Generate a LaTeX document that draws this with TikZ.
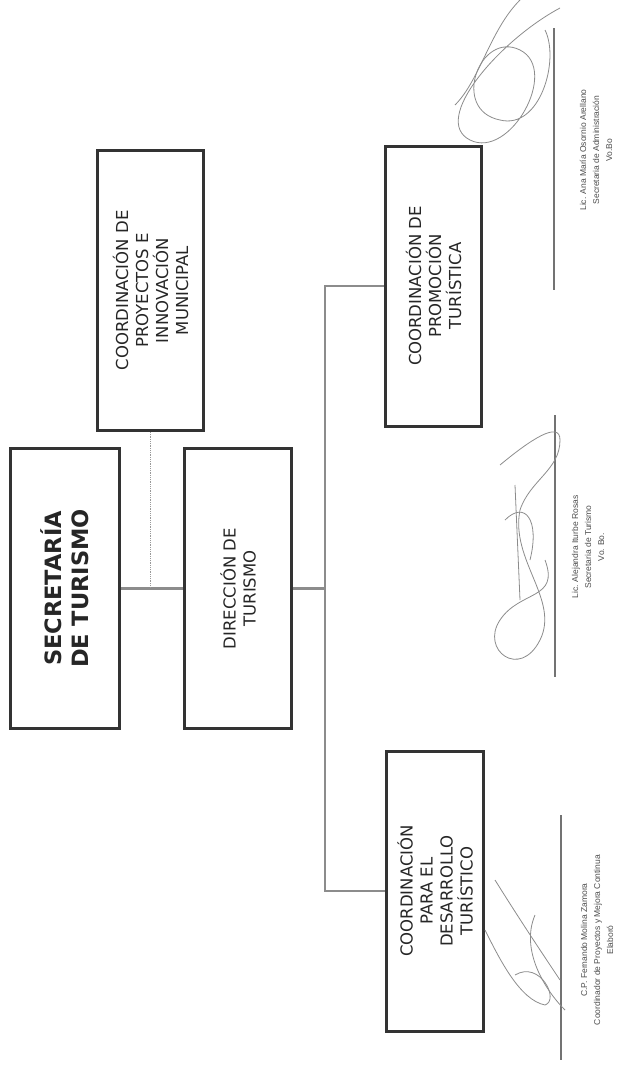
\documentclass[tikz,border=0pt]{standalone}
\usepackage{fontspec}
\setmainfont{DejaVu Sans}
\newfontfamily\signfont{Liberation Sans}
\usetikzlibrary{positioning, calc}

\begin{document}
\begin{tikzpicture}[
    x=1pt, y=-1pt,
    unit/.style={draw=black!80, line width=3pt, rotate=90, align=center,
                 minimum width=280pt, inner sep=2pt, text=black!85,
                 font=\fontsize{16.5}{20}\selectfont},
    head/.style={unit, font=\bfseries\fontsize{22.5}{27}\selectfont},
    link/.style={draw=black!45, line width=2.2pt},
    staff/.style={draw=black!40, line width=0.8pt, densely dotted},
    signline/.style={draw=black!55, line width=1.2pt},
    signtext/.style={rotate=90, align=center, text=black!70,
                     font=\signfont\fontsize{8.5}{13}\selectfont},
    scribble/.style={draw=black!45, line width=0.8pt}
  ]
  \useasboundingbox (0,0) rectangle (621,1071);

  \node[head, minimum height=109pt] (sec) at (65,588.5) {SECRETARÍA\\DE TURISMO};
  \node[unit, minimum height=106pt] (proy) at (150.5,290.5)
    {COORDINACIÓN DE\\PROYECTOS E\\INNOVACIÓN\\MUNICIPAL};
  \node[unit, minimum height=107pt] (dir) at (238,588.5) {DIRECCIÓN DE\\TURISMO};
  \node[unit, minimum height=96pt] (prom) at (433.5,286)
    {COORDINACIÓN DE\\PROMOCIÓN\\TURÍSTICA};
  \node[unit, minimum height=97pt] (desa) at (435,891)
    {COORDINACIÓN\\PARA EL\\DESARROLLO\\TURÍSTICO};

  \coordinate (trunk) at (325,588.5);

  \draw[link] (sec) -- (dir);
  \draw[staff] (proy) -- (proy |- sec);
  \draw[link] (dir) -- (trunk);
  \draw[link] (prom) -| (trunk |- desa) -- (desa);

  % signatures
  \draw[signline] (554,28) -- (554,290);
  \node[signtext] (sigadm) at (596,150)
    {Lic. Ana María Osornio Arellano\\Secretaria de Administración\\Vo.Bo};
  \draw[scribble] (560,8) .. controls (500,40) and (430,120) .. (470,140)
    .. controls (510,160) and (560,70) .. (520,50)
    .. controls (480,30) and (450,110) .. (500,120)
    .. controls (540,130) and (560,60) .. (545,30);
  \draw[scribble] (520,0) .. controls (490,30) and (480,80) .. (455,105);

  \draw[signline] (555,415) -- (555,677);
  \node[signtext] (sigtur) at (588,547)
    {Lic. Alejandra Iturbe Rosas\\Secretaria de Turismo\\Vo. Bo.};
  \draw[scribble] (500,465) .. controls (530,440) and (560,420) .. (560,440)
    .. controls (560,470) and (530,480) .. (520,510)
    .. controls (510,560) and (560,600) .. (540,640)
    .. controls (520,680) and (480,650) .. (500,620)
    .. controls (520,590) and (560,600) .. (545,560);
  \draw[scribble] (515,485) -- (520,600);
  \draw[scribble] (505,520) .. controls (525,500) and (540,520) .. (530,560);

  \draw[signline] (561,815) -- (561,1060);
  \node[signtext] (sigpro) at (597,940)
    {C.P. Fernando Molina Zamora\\Coordinador de Proyectos y Mejora Continua\\Elaboró};
  \draw[scribble] (495,880) .. controls (520,920) and (540,950) .. (560,980);
  \draw[scribble] (485,930) .. controls (500,960) and (520,1000) .. (545,1005)
    .. controls (560,1000) and (540,960) .. (515,975);
  \draw[scribble] (535,915) .. controls (520,950) and (545,990) .. (565,1010);
\end{tikzpicture}
\end{document}
